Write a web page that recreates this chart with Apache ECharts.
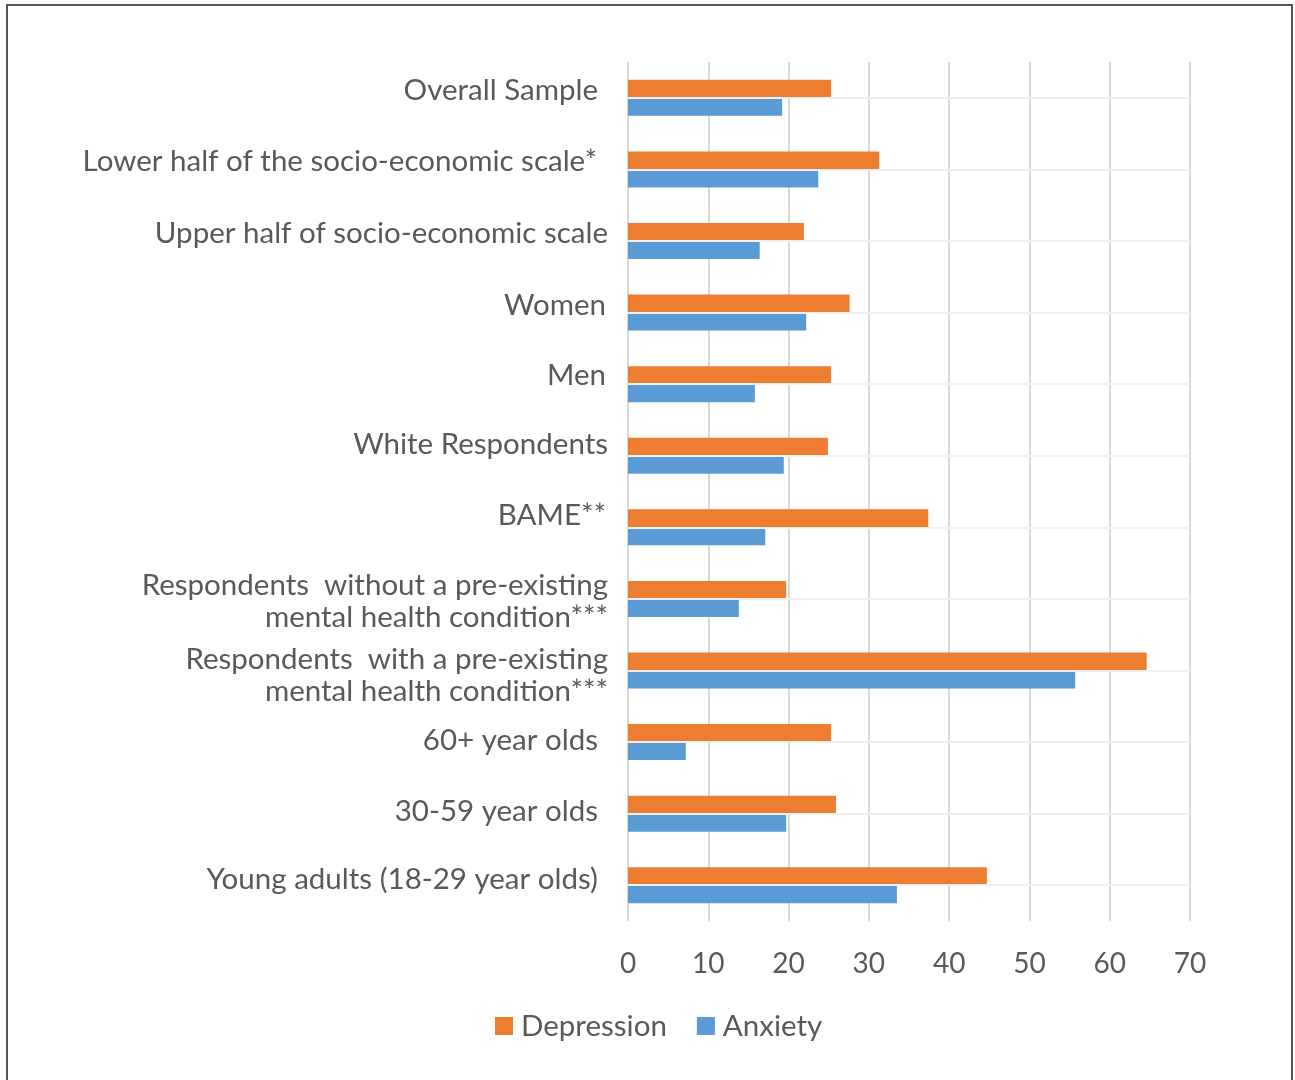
<!DOCTYPE html>
<html>
<head>
<meta charset="utf-8">
<script src="https://cdn.jsdelivr.net/npm/echarts@6/dist/echarts.min.js"></script>
<style>
  html, body { margin: 0; padding: 0; background: #fff; }
  #frame { position: absolute; left: 6px; top: 4px; width: 1287px; height: 1090px; border: 2px solid #555; box-sizing: border-box; }
  #chart { position: absolute; left: 0; top: 0; width: 1295px; height: 1080px; }
</style>
</head>
<body>
<div id="frame"></div>
<div id="chart"></div>
<script>
// Groups, top to bottom
const categories = [
  'Overall Sample',
  'Lower half of the socio-economic scale*',
  'Upper half of socio-economic scale',
  'Women',
  'Men',
  'White Respondents',
  'BAME**',
  'Respondents  without a pre-existing\nmental health condition***',
  'Respondents  with a pre-existing\nmental health condition***',
  '60+ year olds',
  '30-59 year olds',
  'Young adults (18-29 year olds)'
];

// Percentage of respondents per group
const depression = [25.3, 31.3, 21.9, 27.6, 25.3, 24.9, 37.4, 19.7, 64.6, 25.3, 25.9, 44.7];
const anxiety    = [19.2, 23.7, 16.4, 22.2, 15.8, 19.4, 17.1, 13.8, 55.7, 7.2, 19.7, 33.5];

const xTicks = { min: 0, max: 70, interval: 10 };

const FONT = 'Lato, "Open Sans", sans-serif';
const TEXT = '#595959';
const LABEL_SIZE = 29.5;
const LINE_H = 32;

// Per-label nudges of the category text: [left, up] in px
const labelNudge = [
  [10, 7], [11, 8], [0, 7], [2, 7], [2, 9], [0, 11],
  [2, 12], [0, -3], [0, -5], [10, 2], [10, 2], [10, 6]
];

// Rich styles per label: 'c' for a single line (or the first of two),
// 'm' for the second line of a two-line label.
const labelRich = {};
labelNudge.forEach(([dx, dy], i) => {
  const base = { fontFamily: FONT, fontSize: LABEL_SIZE, color: TEXT, lineHeight: LINE_H };
  const vertical = [dy < 0 ? -2 * dy : 0, dy > 0 ? 2 * dy : 0];
  labelRich['c' + i] = Object.assign({}, base, { padding: [vertical[0], dx, vertical[1], 0] });
  labelRich['m' + i] = Object.assign({}, base, { padding: [vertical[0], dx, vertical[1], 0] });
});

function formatLabel(value, index) {
  const lines = value.split('\n');
  if (lines.length === 1) return '{c' + index + '|' + value + '}';
  return '{c' + index + '|' + lines[0] + '}\n{m' + index + '|' + lines[1] + '}';
}

const chart = echarts.init(document.getElementById('chart'), null, { renderer: 'canvas' });

chart.setOption({
  animation: false,
  backgroundColor: 'transparent',
  textStyle: { fontFamily: FONT, color: TEXT },
  grid: { left: 628, right: 105, top: 62, bottom: 159, containLabel: false },
  legend: {
    data: ['Depression', 'Anxiety'],
    left: 490,
    top: 1006,
    itemWidth: 18,
    itemHeight: 18,
    itemGap: 30,
    icon: 'rect',
    textStyle: { fontFamily: FONT, fontSize: 29.5, color: TEXT, padding: [0, 0, 0, 3] }
  },
  xAxis: {
    type: 'value',
    min: xTicks.min,
    max: xTicks.max,
    interval: xTicks.interval,
    axisLine: { show: false },
    axisTick: { show: false },
    splitLine: { show: true, lineStyle: { color: '#d9d9d9', width: 2 } },
    axisLabel: { fontFamily: FONT, fontSize: 28, color: TEXT, margin: 29 }
  },
  yAxis: {
    type: 'category',
    data: categories,
    inverse: true,
    axisLine: { show: false },
    axisTick: { show: false },
    splitLine: { show: false },
    axisLabel: {
      fontFamily: FONT,
      fontSize: LABEL_SIZE,
      color: TEXT,
      margin: 20,
      lineHeight: LINE_H,
      align: 'right',
      formatter: formatLabel,
      rich: labelRich
    }
  },
  series: [
    {
      // light guide line through the middle of each group
      type: 'line',
      data: [],
      z: 1,
      silent: true,
      markLine: {
        silent: true,
        symbol: ['none', 'none'],
        label: { show: false },
        lineStyle: { color: '#f0f0f0', width: 2, type: 'solid' },
        data: categories.map(c => ({ yAxis: c }))
      }
    },
    {
      name: 'Depression',
      type: 'bar',
      data: depression,
      z: 3,
      barWidth: 18,
      barGap: '0%',
      itemStyle: { color: '#ED7D31' }
    },
    {
      name: 'Anxiety',
      type: 'bar',
      data: anxiety,
      z: 3,
      barWidth: 18,
      barGap: '0%',
      itemStyle: { color: '#5B9BD5' }
    }
  ]
});
</script>
</body>
</html>
